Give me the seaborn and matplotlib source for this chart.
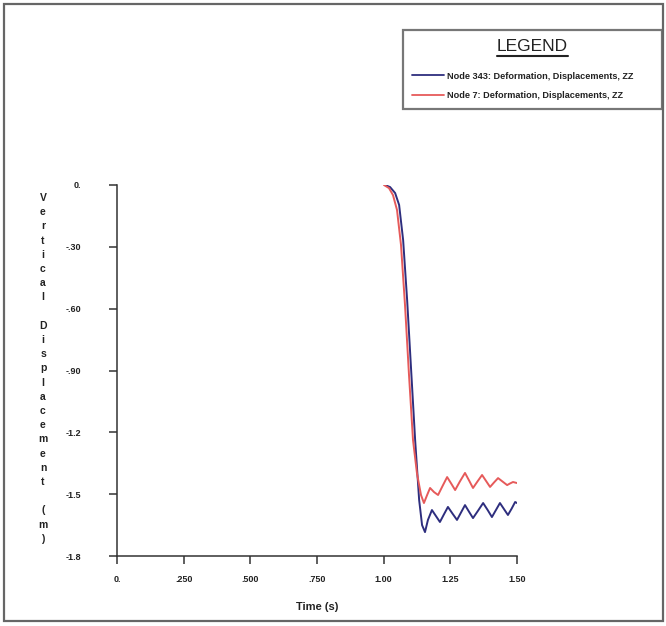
import matplotlib
matplotlib.use("Agg")
import matplotlib.pyplot as plt
from matplotlib.patches import Rectangle
from matplotlib.lines import Line2D
import seaborn as sns
import pandas as pd

# ---- data ----
t_blue = [1.005, 1.024, 1.043, 1.058, 1.073, 1.088, 1.103, 1.118, 1.133, 1.144,
          1.155, 1.166, 1.181, 1.196, 1.211, 1.226, 1.241, 1.258, 1.275, 1.290,
          1.305, 1.320, 1.335, 1.354, 1.373, 1.390, 1.406, 1.421, 1.436, 1.451,
          1.466, 1.480, 1.493, 1.500]
v_blue = [0.0, -0.010, -0.039, -0.097, -0.267, -0.558, -0.898, -1.237, -1.528, -1.650,
          -1.684, -1.625, -1.577, -1.606, -1.635, -1.598, -1.562, -1.594, -1.625, -1.589,
          -1.553, -1.585, -1.616, -1.580, -1.543, -1.577, -1.611, -1.577, -1.543, -1.572,
          -1.601, -1.570, -1.538, -1.543]

t_red = [1.001, 1.020, 1.035, 1.050, 1.065, 1.080, 1.095, 1.110, 1.125, 1.140,
         1.151, 1.163, 1.174, 1.189, 1.204, 1.221, 1.238, 1.253, 1.268, 1.286,
         1.305, 1.320, 1.335, 1.352, 1.369, 1.384, 1.399, 1.414, 1.429, 1.446,
         1.463, 1.474, 1.485, 1.500]
v_red = [0.0, -0.015, -0.049, -0.121, -0.291, -0.582, -0.922, -1.237, -1.400, -1.504,
         -1.543, -1.504, -1.470, -1.490, -1.504, -1.460, -1.417, -1.448, -1.480, -1.438,
         -1.397, -1.433, -1.470, -1.438, -1.407, -1.436, -1.465, -1.443, -1.422, -1.439,
         -1.456, -1.448, -1.441, -1.446]

series_names = ["Node 343: Deformation, Displacements, ZZ",
                "Node 7: Deformation, Displacements, ZZ"]
x_ticks = [0.0, 0.25, 0.5, 0.75, 1.0, 1.25, 1.5]
x_tick_labels = ["0.", ".250", ".500", ".750", "1.00", "1.25", "1.50"]
y_ticks = [0.0, -0.3, -0.6, -0.9, -1.2, -1.5, -1.8]
y_tick_labels = ["0.", "-.30", "-.60", "-.90", "-1.2", "-1.5", "-1.8"]
x_label = "Time (s)"
y_label = "Vertical Displacement (m)"
legend_title = "LEGEND"

df = pd.concat([
    pd.DataFrame({"t": t_blue, "v": v_blue, "series": series_names[0]}),
    pd.DataFrame({"t": t_red, "v": v_red, "series": series_names[1]}),
], ignore_index=True)

sns.set_theme(style="white")
plt.rcParams["font.family"] = ["Liberation Sans Narrow", "Liberation Sans", "DejaVu Sans"]

W, H = 666, 626
fig = plt.figure(figsize=(W / 100, H / 100), dpi=100)
fig.patch.set_facecolor("white")

def fx(px):
    return px / W

def fy(py):
    return 1 - py / H

ax = fig.add_axes([fx(117), fy(556), fx(517) - fx(117), fy(185) - fy(556)])
palette = {series_names[0]: "#2e2e7e", series_names[1]: "#e65a5a"}
sns.lineplot(data=df, x="t", y="v", hue="series", palette=palette, sort=False,
             estimator=None, linewidth=1.4, ax=ax)

ax.set_xlim(0, 1.5)
ax.set_ylim(-1.8, 0)
ax.set_xticks(x_ticks)
ax.set_xticklabels(x_tick_labels)
ax.set_yticks(y_ticks)
ax.set_yticklabels(y_tick_labels)
ax.set_xlabel("")
ax.set_ylabel("")
for s in ["top", "right"]:
    ax.spines[s].set_visible(False)
for s in ["left", "bottom"]:
    ax.spines[s].set_color("#333333")
    ax.spines[s].set_linewidth(1.1)
ax.tick_params(axis="both", which="major", direction="out", length=6, width=1.1,
               color="#333333", labelsize=6.5, labelcolor="#222222")
ax.tick_params(axis="y", pad=20, left=True)
ax.tick_params(axis="x", pad=8, bottom=True)
for lab in ax.get_xticklabels() + ax.get_yticklabels():
    lab.set_fontweight("bold")
ax.set_facecolor("white")

# x label
fig.text(fx(317), fy(607), x_label, ha="center", va="center", fontsize=8,
         fontweight="bold", color="#222222")
# stacked y label (letter by letter)
row_step = 14.2
for i, ch in enumerate(y_label):
    if ch == " ":
        continue
    fig.text(fx(43), fy(198 + i * row_step), ch, ha="center", va="center",
             fontsize=7.5, fontweight="bold", color="#222222")

# legend
handles, labels = ax.get_legend_handles_labels()
leg = ax.legend(handles, labels, title=legend_title, loc="upper left",
                bbox_to_anchor=(fx(403), fy(30), fx(662) - fx(403), 0),
                bbox_transform=fig.transFigure, mode="expand", borderaxespad=0,
                frameon=True, fancybox=False, fontsize=6.6, title_fontsize=12.5,
                handlelength=3.5, handletextpad=0.3, labelspacing=1.15,
                borderpad=1.0)
leg._legend_box.sep = 12.5  # extra gap between title and entries
leg.get_frame().set_edgecolor("#555555")
leg.get_frame().set_linewidth(1.6)
for txt in leg.get_texts():
    txt.set_fontweight("bold")
    txt.set_color("#222222")
leg.get_title().set_color("#222222")
for ln in leg.get_lines():
    ln.set_linewidth(1.3)

# outer frame
fig.patches.append(Rectangle((fx(4), fy(621)), fx(663) - fx(4), fy(4) - fy(621),
                             transform=fig.transFigure, fill=False,
                             edgecolor="#666666", linewidth=1.6))

# underline the legend title
fig.canvas.draw()
bb = leg.get_title().get_window_extent().transformed(fig.transFigure.inverted())
fig.add_artist(Line2D([bb.x0, bb.x1], [bb.y0 - 0.003, bb.y0 - 0.003],
                      transform=fig.transFigure, color="#222222", linewidth=1.5))

fig.savefig("out.png", dpi=100, facecolor="white")
